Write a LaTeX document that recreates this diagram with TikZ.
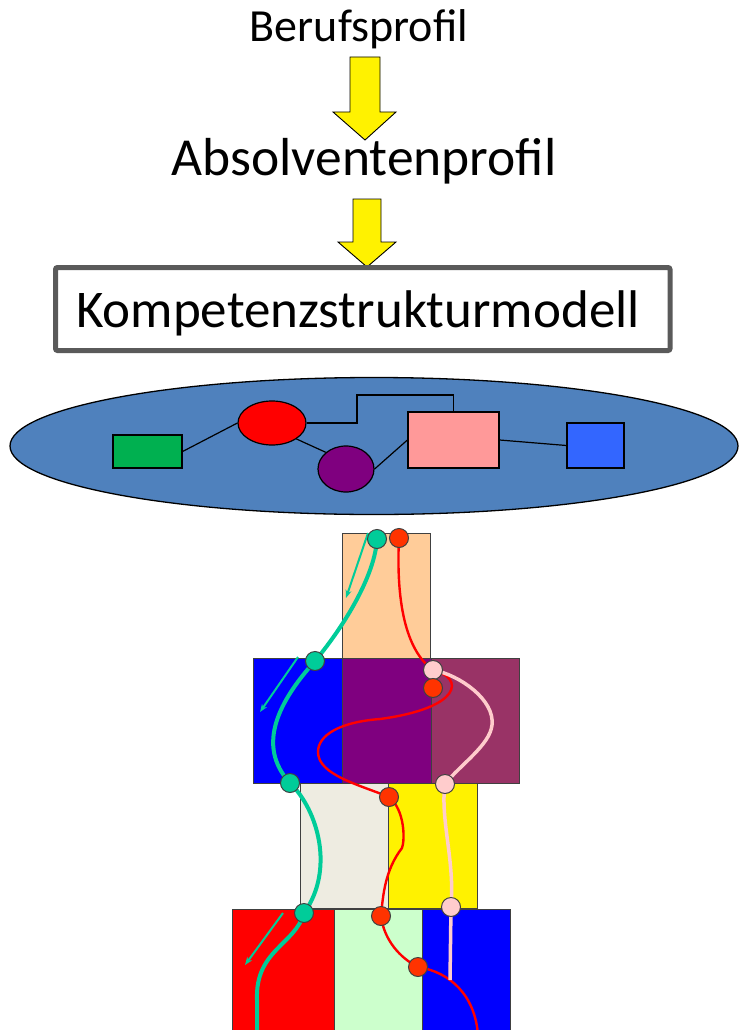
\documentclass[tikz,border=0pt]{standalone}
\usepackage{fontspec}
\setmainfont{Carlito}
\usetikzlibrary{shapes.geometric,arrows.meta}
\pgfdeclarelayer{bg}
\pgfdeclarelayer{wires}
\pgfsetlayers{bg,wires,main}

\definecolor{planeblue}{HTML}{4F81BD}
\definecolor{boxgray}{HTML}{5A5A5A}
\definecolor{edgegray}{HTML}{404040}
\definecolor{cgreen}{HTML}{00B050}
\definecolor{cpink}{HTML}{FF9999}
\definecolor{cblue}{HTML}{3366FF}
\definecolor{cpurple}{HTML}{7F007F}
\definecolor{peach}{HTML}{FFCC99}
\definecolor{maroon}{HTML}{993366}
\definecolor{beige}{HTML}{EEECE1}
\definecolor{mint}{HTML}{CCFFCC}
\definecolor{teal}{HTML}{00CC99}
\definecolor{redpt}{HTML}{FF3300}
\definecolor{rosept}{HTML}{FFCCCC}

\tikzset{
  title/.style={font=\fontsize{#1}{#1}\selectfont, anchor=base, inner sep=0},
  blockarrow/.style={draw=black, line width=0.9, fill=yellow, line join=miter},
  part/.style={draw=black, line width=1.2, inner sep=0},
  link/.style={draw=black, line width=1.2},
  blk/.style={draw=edgegray, line width=1},
  dot/.style={circle, draw=edgegray, line width=1, minimum size=19, inner sep=0},
  tdot/.style={dot, fill=teal},
  rdot/.style={dot, fill=redpt},
  pdot/.style={dot, fill=rosept},
  tpath/.style={draw=teal, line width=4},
  rpath/.style={draw=red, line width=2.4},
  ppath/.style={draw=rosept, line width=3.5},
  hint/.style={draw=teal, line width=2, -{Stealth[length=8pt,width=6pt]}}
}

\begin{document}
\begin{tikzpicture}[x=1pt,y=-1pt]
\useasboundingbox (0,0) rectangle (740,1030);

% --- profile chain ---
\node[title=46] (beruf) at (359,42) {Berufsprofil};
\draw[blockarrow] (350,57) -- (380,57) -- (380,112) -- (396,112) -- (365,140)
  -- (333,112) -- (350,112) -- cycle;
\node[title=53.5] (absol) at (364,175) {Absolventenprofil};
\draw[blockarrow] (353,199) -- (381,199) -- (381,242) -- (396,242) -- (367,267)
  -- (338,242) -- (353,242) -- cycle;
\node[draw=boxgray, line width=5, rounded corners=2, minimum width=614.5,
      minimum height=83, inner sep=0] (ksm) at (362.75,309) {};
\node[title=53] (ksmtext) at (358,327) {Kompetenzstrukturmodell};

% --- structure model ---
\node[ellipse, draw=black, line width=1.3, fill=planeblue, minimum width=728,
      minimum height=137, inner sep=0] (plane) at (374,446) {};
\node[part, rectangle, fill=cgreen, minimum width=69, minimum height=33] (gr) at (147.5,451.5) {};
\node[part, ellipse, fill=red, minimum width=68, minimum height=44] (re) at (272,423) {};
\node[part, ellipse, fill=cpurple, minimum width=56, minimum height=46] (pu) at (346,469) {};
\node[part, rectangle, fill=cpink, minimum width=91, minimum height=56] (pk) at (453.5,440) {};
\node[part, rectangle, fill=cblue, minimum width=57, minimum height=45] (bl) at (595.5,445.5) {};
\draw[link] (gr.east) -- (re.west);
\draw[link] (re.south east) -- (pu.north west);
\draw[link] (re.east) -| (357,395) -| (pk.north);
\draw[link] (pu.east) -- (pk.west);
\draw[link] (pk.east) -- (bl.west);

% --- competence tower ---
\begin{pgfonlayer}{bg}
  \filldraw[blk, fill=peach]   (342,533) rectangle (430,658);
  \filldraw[blk, fill=blue]    (253,658) rectangle (342,783);
  \filldraw[blk, fill=cpurple] (342,658) rectangle (431,783);
  \filldraw[blk, fill=maroon]  (431,658) rectangle (519,783);
  \filldraw[blk, fill=beige]   (300,783) rectangle (388,908);
  \filldraw[blk, fill=yellow]  (388,783) rectangle (477,908);
  \filldraw[blk, fill=red]     (232,909) rectangle (334,1040);
  \filldraw[blk, fill=mint]    (334,909) rectangle (422,1040);
  \filldraw[blk, fill=blue]    (422,909) rectangle (510,1040);
\end{pgfonlayer}

% waypoints
\node[tdot] (t1) at (377,539) {};
\node[tdot] (t2) at (315,661) {};
\node[tdot] (t3) at (290,783) {};
\node[tdot] (t4) at (304,913) {};
\node[rdot] (r1) at (399,538) {};
\node[pdot] (p1) at (433,670) {};
\node[rdot] (r2) at (433,688) {};
\node[rdot] (r3) at (389,797) {};
\node[rdot] (r4) at (381,916) {};
\node[rdot] (r5) at (418,967) {};
\node[pdot] (p2) at (445,784) {};
\node[pdot] (p3) at (451,907) {};

\coordinate (tend) at (257,1035);
\coordinate (rend) at (478,1035);
\coordinate (pend) at (450,980);
\coordinate (h1a) at (368,533);
\coordinate (h1b) at (346,598);
\coordinate (h2a) at (298,657);
\coordinate (h2b) at (260,712);
\coordinate (h3a) at (283,913);
\coordinate (h3b) at (245,965);

\begin{pgfonlayer}{wires}
  % teal route
  \draw[tpath] (t1.center) .. controls (375,575) and (345,625) .. (t2.center)
    .. controls (280,700) and (255,745) .. (t3.center)
    .. controls (318,810) and (335,870) .. (t4.center)
    .. controls (295,945) and (255,950) .. (257,1000) -- (tend);
  % red route
  \draw[rpath] (r1.center) .. controls (396,600) and (405,650) .. (p1.center)
    .. controls (465,678) and (462,708) .. (380,719)
    .. controls (340,722) and (318,735) .. (318,752)
    .. controls (318,775) and (360,785) .. (r3.center)
    .. controls (405,810) and (405,840) .. (402,848)
    .. controls (385,870) and (383,895) .. (r4.center)
    .. controls (384,940) and (400,958) .. (r5.center)
    .. controls (450,972) and (475,995) .. (rend);
  % rose route
  \draw[ppath] (p1.center) .. controls (460,675) and (495,700) .. (492,725)
    .. controls (490,745) and (460,765) .. (p2.center)
    .. controls (440,820) and (455,860) .. (p3.center)
    -- (pend);
  % direction hints
  \draw[hint] (h1a) -- (h1b);
  \draw[hint] (h2a) -- (h2b);
  \draw[hint] (h3a) -- (h3b);
\end{pgfonlayer}
\end{tikzpicture}
\end{document}
